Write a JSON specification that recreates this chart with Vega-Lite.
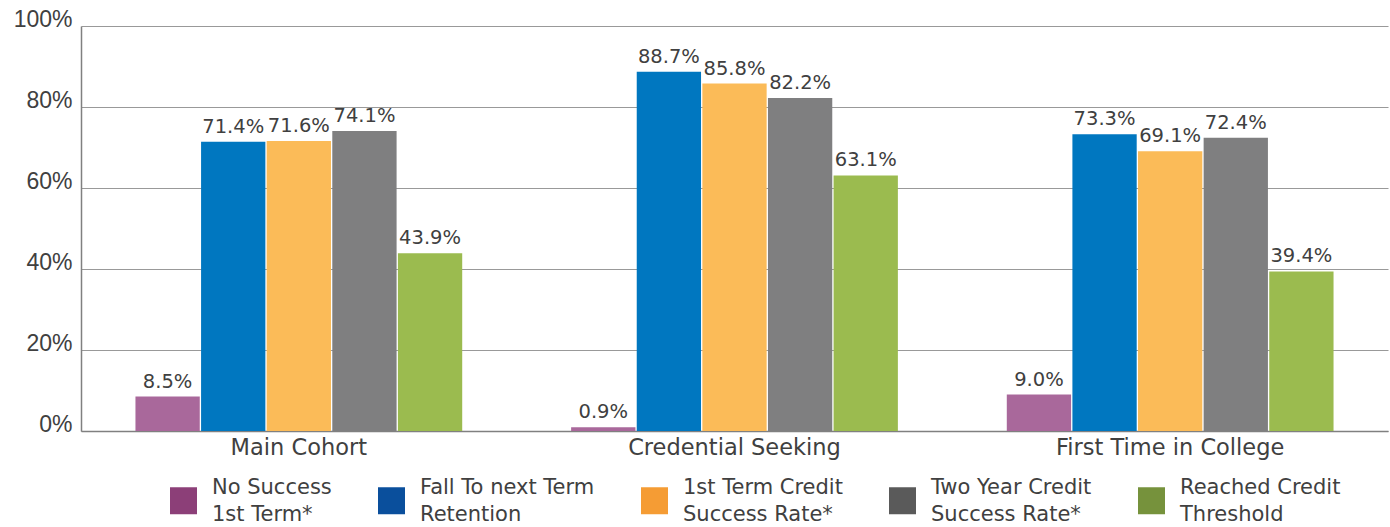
{
  "$schema": "https://vega.github.io/schema/vega-lite/v6.json",
  "autosize": {"type": "none"},
  "padding": {"left": 81, "top": 26, "right": 2, "bottom": 96},
  "width": 1307,
  "height": 405,
  "background": "white",
  "config": {"view": {"stroke": null}},
  "data": {"values": [
    {"group": "Main Cohort", "series": "No Success|1st Term*", "value": 0.085},
    {"group": "Main Cohort", "series": "Fall To next Term|Retention", "value": 0.714},
    {"group": "Main Cohort", "series": "1st Term Credit|Success Rate*", "value": 0.716},
    {"group": "Main Cohort", "series": "Two Year Credit|Success Rate*", "value": 0.741},
    {"group": "Main Cohort", "series": "Reached Credit|Threshold", "value": 0.439},
    {"group": "Credential Seeking", "series": "No Success|1st Term*", "value": 0.009},
    {"group": "Credential Seeking", "series": "Fall To next Term|Retention", "value": 0.887},
    {"group": "Credential Seeking", "series": "1st Term Credit|Success Rate*", "value": 0.858},
    {"group": "Credential Seeking", "series": "Two Year Credit|Success Rate*", "value": 0.822},
    {"group": "Credential Seeking", "series": "Reached Credit|Threshold", "value": 0.631},
    {"group": "First Time in College", "series": "No Success|1st Term*", "value": 0.09},
    {"group": "First Time in College", "series": "Fall To next Term|Retention", "value": 0.733},
    {"group": "First Time in College", "series": "1st Term Credit|Success Rate*", "value": 0.691},
    {"group": "First Time in College", "series": "Two Year Credit|Success Rate*", "value": 0.724},
    {"group": "First Time in College", "series": "Reached Credit|Threshold", "value": 0.394}
  ]},
  "encoding": {
    "x": {
      "field": "group", "type": "nominal", "sort": null, "title": null,
      "scale": {"paddingInner": 0.25, "paddingOuter": 0.125},
      "axis": {"labelAngle": 0, "labelFont": "DejaVu Sans", "labelFontSize": 22.5, "labelColor": "#404040", "labelPadding": 5, "labelBaseline": "top", "ticks": false, "domainColor": "#808080", "domainWidth": 1.5, "grid": false, "labelLimit": 400}
    },
    "xOffset": {
      "field": "series", "type": "nominal",
      "sort": ["No Success|1st Term*", "Fall To next Term|Retention", "1st Term Credit|Success Rate*", "Two Year Credit|Success Rate*", "Reached Credit|Threshold"],
      "scale": {"paddingInner": 0.02, "paddingOuter": 0}
    },
    "y": {
      "field": "value", "type": "quantitative", "title": null,
      "scale": {"domain": [0, 1], "nice": false},
      "axis": {"format": ".0%", "values": [0, 0.2, 0.4, 0.6, 0.8, 1], "labelFont": "Liberation Sans", "labelFontSize": 23, "labelColor": "#404040", "labelBaseline": "alphabetic", "labelPadding": 9, "ticks": false, "domainColor": "#808080", "domainWidth": 1.5, "gridColor": "#999999", "gridWidth": 1}
    }
  },
  "resolve": {"scale": {"color": "independent"}, "legend": {"color": "independent"}},
  "layer": [
    {
      "mark": {"type": "bar"},
      "encoding": {
        "color": {
          "field": "series", "type": "nominal", "legend": null,
          "scale": {
            "domain": ["No Success|1st Term*", "Fall To next Term|Retention", "1st Term Credit|Success Rate*", "Two Year Credit|Success Rate*", "Reached Credit|Threshold"],
            "range": ["#a9689b", "#0077c0", "#fbbb58", "#7f7f80", "#9bbb4f"]
          }
        }
      }
    },
    {
      "mark": {"type": "text", "baseline": "alphabetic", "dy": -9, "font": "DejaVu Sans", "fontSize": 19.5, "color": "#404040"},
      "encoding": {"text": {"field": "value", "type": "quantitative", "format": ".1%"}}
    },
    {
      "mark": {"type": "point", "shape": "square", "filled": true, "size": 0, "opacity": 1},
      "encoding": {
        "color": {
          "field": "series", "type": "nominal",
          "scale": {
            "domain": ["No Success|1st Term*", "Fall To next Term|Retention", "1st Term Credit|Success Rate*", "Two Year Credit|Success Rate*", "Reached Credit|Threshold"],
            "range": ["#8c3f78", "#0a4f9c", "#f59c34", "#5a5a5a", "#76923c"]
          },
          "legend": {
            "title": null, "orient": "none", "legendX": 89, "legendY": 461, "direction": "horizontal",
            "symbolType": "square", "symbolSize": 729, "symbolOpacity": 1, "symbolStrokeWidth": 0,
            "labelExpr": "split(datum.label, '|')", "labelFont": "DejaVu Sans", "labelFontSize": 21,
            "labelColor": "#404040", "labelOffset": 15, "labelLimit": 300, "columnPadding": 46,
            "labelBaseline": "middle",
            "encode": {"labels": {"update": {"lineHeight": {"value": 27}, "dy": {"value": -13}}}}
          }
        }
      }
    }
  ]
}
